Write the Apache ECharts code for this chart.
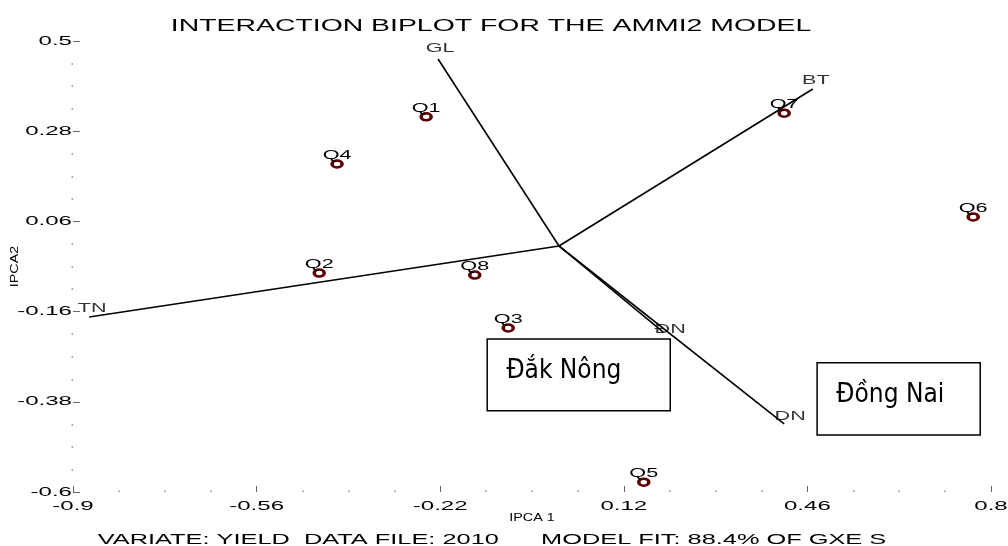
<!DOCTYPE html>
<html>
<head>
<meta charset="utf-8">
<script src="https://cdn.jsdelivr.net/npm/echarts@6/dist/echarts.min.js"></script>
<style>
html,body{margin:0;padding:0;background:#ffffff;}
#chart{width:1008px;height:546px;}
</style>
</head>
<body>
<div id="chart"></div>
<script>
// ---------------- data ----------------
const genotypes = ['Q1', 'Q2', 'Q3', 'Q4', 'Q5', 'Q6', 'Q7', 'Q8'];
const genoIPCA1 = [-0.246, -0.444, -0.094, -0.411, 0.157, 0.767, 0.417, -0.156];
const genoIPCA2 = [0.315, -0.066, -0.200, 0.200, -0.576, 0.071, 0.324, -0.071];

const environments = ['GL', 'BT', 'TN', 'ĐN', 'DN'];
const envIPCA1 = [-0.224, 0.470, -0.870, 0.193, 0.417];
const envIPCA2 = [0.456, 0.383, -0.173, -0.210, -0.434];

const xTickLabels = [-0.9, -0.56, -0.22, 0.12, 0.46, 0.8];
const yTickLabels = [0.5, 0.28, 0.06, -0.16, -0.38, -0.6];

const boxNames = ['Đắk Nông', 'Đồng Nai'];
const boxIPCA1 = [[-0.133, 0.206], [0.478, 0.780]];
const boxIPCA2 = [[-0.227, -0.402], [-0.285, -0.461]];

const titleText = 'INTERACTION BIPLOT FOR THE AMMI2 MODEL';
const footerText = 'VARIATE: YIELD  DATA FILE: 2010      MODEL FIT: 88.4% OF GXE S';

// ---------------- wide lettering (the source draws stretched glyphs) ----------------
(function () {
  const P = CanvasRenderingContext2D.prototype;
  const fill = P.fillText, stroke = P.strokeText, measure = P.measureText;
  const bySize = {17: 1.67, 15: 1.69, 13: 1.85, 12: 1.8, 11: 1.3};
  function k(font) {
    if (!font || /Narrow|Condensed/.test(font)) return 1;
    const m = /(\d+(?:\.\d+)?)px/.exec(font);
    const s = m ? Math.round(parseFloat(m[1])) : 12;
    return bySize[s] || 1;
  }
  function wrap(orig) {
    return function (t, x, y, w) {
      const s = k(this.font);
      if (s === 1) return w === undefined ? orig.call(this, t, x, y) : orig.call(this, t, x, y, w);
      this.save();
      this.translate(x, y);
      this.scale(s, 1);
      if (w === undefined) orig.call(this, t, 0, 0); else orig.call(this, t, 0, 0, w / s);
      this.restore();
    };
  }
  P.fillText = wrap(fill);
  P.strokeText = wrap(stroke);
  P.measureText = function (t) {
    const m = measure.call(this, t);
    const s = k(this.font);
    if (s === 1) return m;
    return {
      width: m.width * s,
      actualBoundingBoxLeft: m.actualBoundingBoxLeft * s,
      actualBoundingBoxRight: m.actualBoundingBoxRight * s,
      actualBoundingBoxAscent: m.actualBoundingBoxAscent,
      actualBoundingBoxDescent: m.actualBoundingBoxDescent,
      fontBoundingBoxAscent: m.fontBoundingBoxAscent,
      fontBoundingBoxDescent: m.fontBoundingBoxDescent
    };
  };
})();

// ---------------- build ----------------
function minorBetween(majors, parts) {
  const out = [];
  const sorted = majors.slice().sort((a, b) => a - b);
  for (let i = 0; i < sorted.length - 1; i++) {
    const a = sorted[i], b = sorted[i + 1];
    for (let j = 1; j < parts; j++) out.push(+(a + (b - a) * j / parts).toFixed(4));
  }
  return out;
}
const xMinor = minorBetween(xTickLabels, 4);
const yMinor = minorBetween(yTickLabels, 4);

const FONT = 'Liberation Sans';
const NARROW = "'Liberation Sans Narrow', 'DejaVu Sans Condensed', 'Arial Narrow', sans-serif";

const envLabelOffset = {
  'GL': [2, -10],
  'BT': [3, -8],
  'TN': [3, -8],
  'ĐN': [7, -2],
  'DN': [6, -7]
};

const vectorSeries = environments.map((e, i) => ({
  type: 'line',
  name: e,
  data: [[0, 0], [envIPCA1[i], envIPCA2[i]]],
  symbol: 'none',
  silent: true,
  animation: false,
  lineStyle: {color: '#000', width: 1.6},
  z: 2
}));

const envLabelSeries = {
  type: 'scatter',
  name: 'envLabels',
  symbolSize: 0,
  silent: true,
  animation: false,
  data: environments.map((e, i) => ({
    name: e,
    value: [envIPCA1[i], envIPCA2[i]],
    label: {offset: envLabelOffset[e]}
  })),
  label: {show: true, position: 'inside', formatter: '{b}', fontSize: 12, color: '#000', fontFamily: FONT},
  markArea: {
    silent: true,
    itemStyle: {color: 'rgba(0,0,0,0)', borderColor: '#000', borderWidth: 1.5},
    label: {show: true, position: 'insideLeft', distance: 20, offset: [0, -4], fontSize: 26, color: '#000', fontFamily: NARROW},
    data: boxNames.map((n, i) => [
      {name: n, xAxis: boxIPCA1[i][0], yAxis: boxIPCA2[i][0]},
      {xAxis: boxIPCA1[i][1], yAxis: boxIPCA2[i][1]}
    ])
  },
  z: 4
};

const genoSeries = {
  type: 'scatter',
  name: 'genotypes',
  symbol: 'circle',
  symbolSize: [10, 7],
  animation: false,
  itemStyle: {color: '#ffffff', borderColor: '#5c0000', borderWidth: 3, opacity: 1},
  label: {show: true, position: 'inside', offset: [0, -8], formatter: '{b}', fontSize: 12, color: '#000', fontFamily: FONT},
  data: genotypes.map((g, i) => ({name: g, value: [genoIPCA1[i], genoIPCA2[i]]})),
  z: 5
};

const chart = echarts.init(document.getElementById('chart'), null, {renderer: 'canvas', devicePixelRatio: 1});
chart.setOption({
  animation: false,
  backgroundColor: '#ffffff',
  textStyle: {fontFamily: FONT},
  title: [
    {text: titleText, left: 491, top: 12, textAlign: 'center', padding: 0,
     textStyle: {fontSize: 17, fontWeight: 'normal', color: '#000', fontFamily: FONT}},
    {text: footerText, left: 492, top: 527, textAlign: 'center', padding: 0,
     textStyle: {fontSize: 15, fontWeight: 'normal', color: '#000', fontFamily: FONT}}
  ],
  grid: {left: 73, right: 17, top: 41, bottom: 54, containLabel: false, outerBoundsMode: 'none'},
  xAxis: [
    {
      type: 'value', min: -0.9, max: 0.8, position: 'bottom',
      axisLine: {show: false, onZero: false}, splitLine: {show: false},
      axisTick: {show: true, inside: true, length: 6, customValues: xTickLabels, lineStyle: {color: '#666', width: 1}},
      axisLabel: {show: true, customValues: xTickLabels, margin: 2, fontSize: 13, color: '#000', fontFamily: FONT,
                  formatter: v => String(v)},
      name: 'IPCA 1', nameLocation: 'middle', nameGap: 19, nameMoveOverlap: false,
      nameTextStyle: {fontSize: 11, color: '#000', fontFamily: FONT}
    },
    {
      type: 'value', min: -0.9, max: 0.8, position: 'bottom',
      axisLine: {show: false, onZero: false}, splitLine: {show: false},
      axisTick: {show: true, inside: true, length: 1.5, customValues: xMinor, lineStyle: {color: '#888', width: 1.5}},
      axisLabel: {show: false}
    }
  ],
  yAxis: [
    {
      type: 'value', min: -0.6, max: 0.5, position: 'left',
      axisLine: {show: false, onZero: false}, splitLine: {show: false},
      axisTick: {show: true, inside: true, length: 7, customValues: yTickLabels, lineStyle: {color: '#666', width: 1}},
      axisLabel: {show: true, customValues: yTickLabels, margin: 1, fontSize: 13, color: '#000', fontFamily: FONT,
                  formatter: v => String(v)},
      name: 'IPCA2', nameLocation: 'middle', nameGap: 51, nameMoveOverlap: false,
      nameTextStyle: {fontSize: 11, color: '#000', fontFamily: FONT}
    },
    {
      type: 'value', min: -0.6, max: 0.5, position: 'left',
      axisLine: {show: false, onZero: false}, splitLine: {show: false},
      axisTick: {show: true, inside: false, length: 1.5, customValues: yMinor, lineStyle: {color: '#888', width: 1.5}},
      axisLabel: {show: false}
    }
  ],
  series: vectorSeries.concat([envLabelSeries, genoSeries])
});
</script>
</body>
</html>
